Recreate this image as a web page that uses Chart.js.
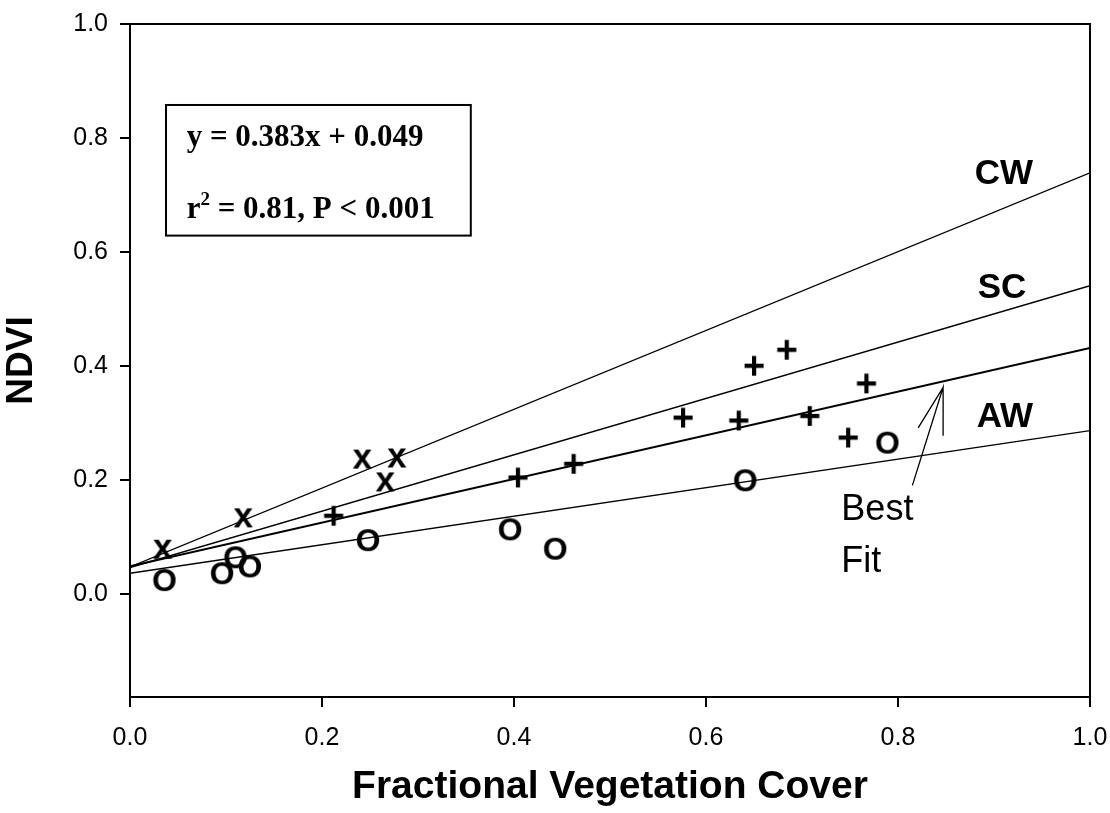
<!DOCTYPE html>
<html>
<head>
<meta charset="utf-8">
<script src="https://cdn.jsdelivr.net/npm/chart.js@4.4.0/dist/chart.umd.min.js"></script>
<style>
  html, body { margin: 0; padding: 0; background: #fff; }
  #wrap { width: 1110px; height: 813px; }
</style>
</head>
<body>
<div id="wrap"><canvas id="myChart" width="1110" height="813"></canvas></div>
<script>
// CW points (x markers)
const cwX = [0.034, 0.118, 0.242, 0.278, 0.266];
const cwY = [0.080, 0.135, 0.238, 0.240, 0.198];

// SC points (+ markers)
const scX = [0.212, 0.404, 0.462, 0.576, 0.634, 0.650, 0.684, 0.708, 0.748, 0.767];
const scY = [0.138, 0.205, 0.229, 0.310, 0.305, 0.401, 0.429, 0.313, 0.275, 0.370];

// AW points (O markers)
const awX = [0.036, 0.096, 0.110, 0.125, 0.248, 0.396, 0.443, 0.641, 0.789];
const awY = [0.025, 0.037, 0.065, 0.049, 0.095, 0.114, 0.080, 0.200, 0.266];

// regression lines, value at x = 0 and x = 1
const lineX = [0, 1];
const cwLine = [0.048, 0.739];
const scLine = [0.047, 0.541];
const bestLine = [0.049, 0.432];
const awLine = [0.037, 0.287];

const xTicks = [0, 0.2, 0.4, 0.6, 0.8, 1.0];
const yTicks = [0, 0.2, 0.4, 0.6, 0.8, 1.0];

const SANS = "'Liberation Sans', Arial, sans-serif";
const SERIF = "'Liberation Serif', 'Times New Roman', serif";

function pts(xs, ys) {
    return xs.map((x, i) => ({ x: x, y: ys[i] }));
}

// glyph markers like the original plot ("x", "+", "O")
function glyph(ch, size) {
    const c = document.createElement("canvas");
    c.width = Math.round(size * 1.2);
    c.height = Math.round(size * 1.2);
    const g = c.getContext("2d");
    g.font = "bold " + size + "px " + SANS;
    g.fillStyle = "#000";
    g.textAlign = "center";
    g.textBaseline = "alphabetic";
    const m = g.measureText(ch);
    const h = m.actualBoundingBoxAscent + m.actualBoundingBoxDescent;
    g.fillText(ch, c.width / 2, c.height / 2 + h / 2 - m.actualBoundingBoxDescent);
    return c;
}

const lineSet = (vals, w) => ({
    type: "line",
    data: pts(lineX, vals),
    borderColor: "#000",
    borderWidth: w,
    pointRadius: 0,
    fill: false,
    order: 2,
});

const frame = {
    id: "frame",
    afterDraw(chart) {
        const { ctx, chartArea: a, scales } = chart;
        const X = (v) => scales.x.getPixelForValue(v);
        const Y = (v) => scales.y.getPixelForValue(v);
        ctx.save();
        ctx.strokeStyle = "#000";
        ctx.lineWidth = 2;
        ctx.beginPath();
        ctx.moveTo(a.left, a.top);
        ctx.lineTo(a.right, a.top);
        ctx.lineTo(a.right, a.bottom);
        ctx.stroke();

        // equation box
        ctx.strokeRect(X(0.0375), Y(0.858), X(0.355) - X(0.0375), Y(0.629) - Y(0.858));
        ctx.fillStyle = "#000";
        ctx.font = "bold 31px " + SERIF;
        ctx.textAlign = "left";
        ctx.textBaseline = "alphabetic";
        ctx.fillText("y = 0.383x + 0.049", X(0.059), Y(0.786));
        let tx = X(0.059);
        const ty = Y(0.660);
        ctx.fillText("r", tx, ty);
        tx += ctx.measureText("r").width;
        ctx.font = "bold 19px " + SERIF;
        ctx.fillText("2", tx, ty - 13);
        tx += ctx.measureText("2").width;
        ctx.font = "bold 31px " + SERIF;
        ctx.fillText(" = 0.81, P < 0.001", tx, ty);

        // line labels
        ctx.font = "bold 35px " + SANS;
        ctx.fillText("CW", X(0.880), Y(0.72));
        ctx.fillText("SC", X(0.883), Y(0.52));
        ctx.fillText("AW", X(0.882), Y(0.294));

        ctx.font = "36px " + SANS;
        ctx.fillText("Best", X(0.741), Y(0.131));
        ctx.fillText("Fit", X(0.741), Y(0.039));

        // arrow to best fit line
        ctx.lineWidth = 1.3;
        ctx.beginPath();
        ctx.moveTo(X(0.815), Y(0.191));
        ctx.lineTo(X(0.847), Y(0.363));
        ctx.lineTo(X(0.847), Y(0.278));
        ctx.moveTo(X(0.847), Y(0.363));
        ctx.lineTo(X(0.821), Y(0.292));
        ctx.stroke();
        ctx.restore();
    },
};

const config = {
    type: "scatter",
    data: {
        datasets: [
            lineSet(cwLine, 1.4),
            lineSet(scLine, 1.4),
            lineSet(bestLine, 2),
            lineSet(awLine, 1.4),
            {
                label: "CW",
                data: pts(cwX, cwY),
                pointStyle: glyph("x", 35),
                order: 1,
            },
            {
                label: "SC",
                data: pts(scX, scY),
                pointStyle: glyph("+", 38),
                order: 1,
            },
            {
                label: "AW",
                data: pts(awX, awY),
                pointStyle: glyph("O", 32),
                order: 1,
            },
        ],
    },
    options: {
        responsive: false,
        animation: false,
        layout: {
            padding: { left: 0, right: 20, top: 24, bottom: 0 },
        },
        plugins: {
            legend: { display: false },
            tooltip: { enabled: false },
        },
        scales: {
            x: {
                type: "linear",
                min: 0,
                max: 1,
                afterBuildTicks: (s) => { s.ticks = xTicks.map((v) => ({ value: v })); },
                afterFit: (s) => { s.height = 116; s.paddingLeft = 0; s.paddingRight = 0; },
                border: { display: true, color: "#000", width: 2 },
                grid: { drawOnChartArea: false, drawTicks: true, tickLength: 10, color: "#000", lineWidth: 2 },
                ticks: {
                    color: "#000",
                    padding: 16,
                    font: { family: SANS, size: 25 },
                    callback: (v) => v.toFixed(1),
                },
                title: {
                    display: true,
                    text: "Fractional Vegetation Cover",
                    color: "#000",
                    font: { family: SANS, size: 39, weight: "bold" },
                    padding: { top: 0, bottom: 2 },
                },
            },
            y: {
                type: "linear",
                min: -0.18,
                max: 1,
                afterBuildTicks: (s) => { s.ticks = yTicks.map((v) => ({ value: v })); },
                afterFit: (s) => { s.width = 130; s.paddingTop = 0; s.paddingBottom = 0; },
                border: { display: true, color: "#000", width: 2 },
                grid: { drawOnChartArea: false, drawTicks: true, tickLength: 10, color: "#000", lineWidth: 2 },
                ticks: {
                    color: "#000",
                    padding: 12,
                    font: { family: SANS, size: 25 },
                    callback: (v) => v.toFixed(1),
                },
                title: {
                    display: true,
                    text: "NDVI",
                    color: "#000",
                    font: { family: SANS, size: 37, weight: "bold" },
                    padding: { top: 0, bottom: 0 },
                },
            },
        },
    },
    plugins: [frame],
};

new Chart(document.getElementById("myChart"), config);
</script>
</body>
</html>
